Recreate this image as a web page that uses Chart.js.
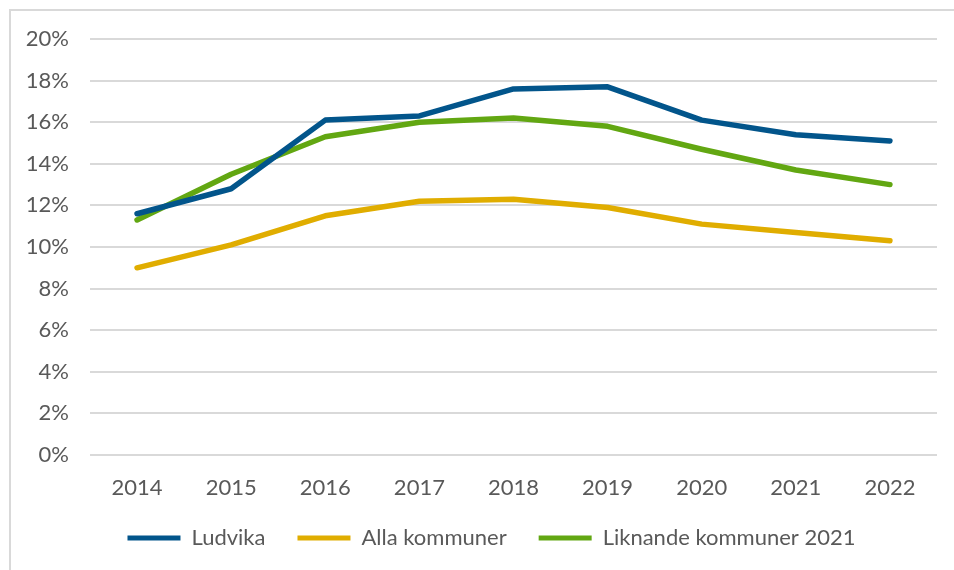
<!DOCTYPE html>
<html>
<head>
<meta charset="utf-8">
<script src="https://cdn.jsdelivr.net/npm/chart.js@4"></script>
<style>
  html, body { margin: 0; padding: 0; background: #fff; overflow: hidden; }
  #frame { position: absolute; left: 9px; top: 9px; width: 1000px; height: 1000px;
           border-top: 2px solid #d9d9d9; border-left: 2px solid #d9d9d9; }
  #wrap { position: absolute; left: 0; top: 0; width: 954px; height: 570px; }
</style>
</head>
<body>
<div id="frame"></div>
<div id="wrap"><canvas id="chart-andel" width="954" height="570"></canvas></div>
<script>
var years = ["2014", "2015", "2016", "2017", "2018", "2019", "2020", "2021", "2022"];
var ludvika = [11.6, 12.8, 16.1, 16.3, 17.6, 17.7, 16.1, 15.4, 15.1];
var allaKommuner = [9.0, 10.1, 11.5, 12.2, 12.3, 11.9, 11.1, 10.7, 10.3];
var liknandeKommuner = [11.3, 13.5, 15.3, 16.0, 16.2, 15.8, 14.7, 13.7, 13.0];

var textColor = '#595959';
var fontFamily = 'Lato, "Liberation Sans", sans-serif';

function serie(label, color, values) {
    return {
        label: label,
        data: values,
        borderColor: color,
        backgroundColor: color,
        borderWidth: 5.5,
        borderCapStyle: 'round',
        borderJoinStyle: 'round',
        pointRadius: 0,
        tension: 0,
        fill: false
    };
}

// move the legend a bit, like in the original
var legendShift = {
    id: 'legendShift',
    afterLayout: function(chart) {
        chart.legend.left += 23;
        chart.legend.right += 23;
        chart.legend.top -= 7;
        chart.legend.bottom -= 7;
    }
};

var ctx = document.getElementById('chart-andel').getContext('2d');
var chart = new Chart(ctx, {
    type: 'line',
    data: {
        labels: years,
        datasets: [
            serie("Ludvika", '#02558b', ludvika),
            serie("Alla kommuner", '#e0ad00', allaKommuner),
            serie("Liknande kommuner 2021", '#62a712', liknandeKommuner)
        ]
    },
    plugins: [legendShift],
    options: {
        responsive: false,
        animation: false,
        layout: { padding: { left: 0, right: 17, top: 39, bottom: 4 } },
        scales: {
            x: {
                offset: true,
                grid: { display: false },
                border: { display: false },
                ticks: { color: textColor, font: { family: fontFamily, size: 22 }, padding: 12, maxRotation: 0 },
                afterFit: function(scale) { scale.height = 47; }
            },
            y: {
                min: 0,
                max: 20,
                grid: { color: '#d9d9d9', lineWidth: 2, drawTicks: false },
                border: { display: false },
                ticks: {
                    stepSize: 2,
                    color: textColor,
                    padding: 21,
                    font: { family: fontFamily, size: 22 },
                    callback: function(v) { return v + '%'; }
                },
                afterFit: function(scale) { scale.width = 90; }
            }
        },
        plugins: {
            tooltip: { enabled: false },
            legend: {
                position: 'bottom',
                labels: {
                    color: textColor,
                    font: { family: fontFamily, size: 22 },
                    boxWidth: 53,
                    boxHeight: 5,
                    padding: 32,
                    useBorderRadius: true,
                    borderRadius: 2.5,
                    generateLabels: function(chart) {
                        return chart.data.datasets.map(function(ds, i) {
                            return {
                                text: ds.label,
                                fillStyle: ds.borderColor,
                                strokeStyle: ds.borderColor,
                                lineWidth: 0,
                                fontColor: textColor,
                                hidden: false,
                                datasetIndex: i
                            };
                        });
                    }
                }
            }
        }
    }
});
</script>
</body>
</html>
